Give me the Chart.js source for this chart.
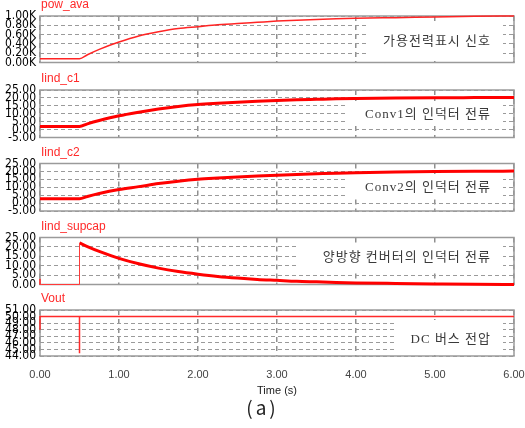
<!DOCTYPE html>
<html>
<head>
<meta charset="utf-8">
<script src="https://cdn.jsdelivr.net/npm/chart.js@4.4.0/dist/chart.umd.min.js"></script>
<style>
  html, body { margin: 0; padding: 0; background: #fff; }
  #wrap { position: relative; width: 525px; height: 428px; overflow: hidden; }
  #wrap canvas { position: absolute; left: 0; top: 0; }
  #cap { position: absolute; left: 0; width: 525px; top: 393px; line-height: 22px;
         text-align: center; font: 19px 'Noto Sans CJK KR', sans-serif; color: #222; letter-spacing: 3px; }
</style>
</head>
<body>
<div id="wrap">
  <canvas id="p0" width="525" height="428"></canvas>
  <canvas id="p1" width="525" height="428"></canvas>
  <canvas id="p2" width="525" height="428"></canvas>
  <canvas id="p3" width="525" height="428"></canvas>
  <canvas id="p4" width="525" height="428"></canvas>
  <div id="cap">(a)</div>
</div>
<script>
// time base (s) shared by the first three traces
const time = [0, 0.5, 0.6, 0.75, 1.0, 1.25, 1.5, 1.75, 2.0, 2.25, 2.5, 2.75, 3.0, 3.25, 3.5, 3.75, 4.0, 4.5, 5.0, 5.5, 6.0];
const powAva = [0.08, 0.08, 0.167, 0.283, 0.44, 0.57, 0.66, 0.73, 0.77, 0.81, 0.84, 0.865, 0.89, 0.91, 0.925, 0.94, 0.95, 0.965, 0.98, 0.995, 1.0];
const iindC1 = [2.0, 2.0, 3.6, 5.7, 8.7, 11.0, 13.0, 14.6, 15.8, 16.6, 17.3, 17.9, 18.4, 18.8, 19.1, 19.4, 19.6, 19.9, 20.1, 20.2, 20.3];
const iindC2 = [2.7, 2.7, 4.2, 6.1, 8.6, 10.4, 12.3, 13.8, 15.0, 15.8, 16.5, 17.1, 17.6, 18.1, 18.5, 18.9, 19.2, 19.6, 19.9, 20.1, 20.2];

// supercap current: step at 0.5 s then decay
const supTime = [0.5, 0.6, 0.75, 1.0, 1.25, 1.5, 1.75, 2.0, 2.25, 2.5, 2.75, 3.0, 3.25, 3.5, 3.75, 4.0, 4.5, 5.0, 5.5, 6.0];
const supCap = [22.1, 20.2, 17.6, 13.9, 11.0, 8.7, 6.9, 5.5, 4.3, 3.4, 2.7, 2.2, 1.7, 1.4, 1.1, 0.85, 0.55, 0.3, 0.1, 0.05];
const supEdgeTime = [0, 0, 0.02, 0.5, 0.5];
const supEdge = [3, 0, 0, 0, 22.1];

// DC bus voltage
const voutTime = [0, 0, 0.5, 0.5, 0.5, 6.0];
const vout = [48, 50, 50, 44.4, 50, 50];

// axis ticks
const timeTicks = [0, 1, 2, 3, 4, 5, 6];
const powTicks = [0, 0.2, 0.4, 0.6, 0.8, 1.0];
const convTicks = [-5, 0, 5, 10, 15, 20, 25];
const supTicks = [0, 5, 10, 15, 20, 25];
const voutTicks = [44, 45, 46, 47, 48, 49, 50, 51];

const names = ['pow_ava', 'Iind_c1', 'Iind_c2', 'Iind_supcap', 'Vout'];
const notes = ['가용전력표시 신호', 'Conv1의 인덕터 전류', 'Conv2의 인덕터 전류', '양방향 컨버터의 인덕터 전류', 'DC 버스 전압'];

const pts = (xs, ys) => xs.map((x, i) => ({ x, y: ys[i] }));

const panelDecor = {
  id: 'panelDecor',
  beforeDatasetsDraw(chart, args, o) {
    const { ctx, chartArea: a } = chart;
    ctx.save();
    // white note box over the grid
    const [x0, y0, x1, y1] = o.box;
    ctx.fillStyle = '#fff';
    ctx.fillRect(x0, y0, x1 - x0, y1 - y0);
    ctx.font = "13px 'Liberation Serif', 'Noto Sans CJK KR', serif";
    ctx.fillStyle = '#3a3a3a';
    ctx.textAlign = 'right';
    ctx.textBaseline = 'middle';
    ctx.letterSpacing = '1px';
    ctx.fillText(o.note, x1 - 12, o.textY);
    ctx.letterSpacing = '0px';
    // frame
    ctx.strokeStyle = '#9a9a9a';
    ctx.lineWidth = 1.5;
    ctx.strokeRect(a.left, a.top, a.right - a.left, a.bottom - a.top);
    // trace name
    ctx.font = "12px 'Liberation Sans', Arial, sans-serif";
    ctx.fillStyle = '#ff2a2a';
    ctx.textAlign = 'left';
    ctx.textBaseline = 'alphabetic';
    ctx.fillText(o.name, a.left + 1, a.top - 8);
    ctx.restore();
  }
};

function makePanel(i, spec) {
  const last = i === 4;
  const xAxisH = last ? 42 : 0;
  new Chart(document.getElementById('p' + i), {
    type: 'line',
    data: { datasets: spec.datasets },
    options: {
      responsive: false,
      animation: false,
      layout: { autoPadding: false, padding: { left: 0, right: 11, top: spec.top, bottom: 428 - spec.bottom - xAxisH } },
      plugins: {
        legend: { display: false },
        tooltip: { enabled: false },
        panelDecor: { name: names[i], note: notes[i], box: spec.box, textY: spec.textY }
      },
      elements: { point: { radius: 0 }, line: { tension: 0 } },
      scales: {
        x: {
          type: 'linear', min: 0, max: 6,
          afterBuildTicks: s => { s.ticks = timeTicks.map(v => ({ value: v })); },
          afterFit: s => { s.height = xAxisH; s.paddingLeft = 0; s.paddingRight = 0; },
          grid: { color: '#8f8f8f', lineWidth: 1.5, drawTicks: false },
          border: { display: false, dash: [5, 4] },
          ticks: {
            display: last, padding: 12, autoSkip: false, maxRotation: 0,
            color: '#444', font: { family: "'Liberation Sans', Arial, sans-serif", size: 11 },
            callback: v => v.toFixed(2)
          },
          title: {
            display: last, text: 'Time (s)', color: '#222', padding: 0,
            font: { family: "'Liberation Sans', Arial, sans-serif", size: 11 }
          }
        },
        y: {
          min: spec.min, max: spec.max,
          afterBuildTicks: s => { s.ticks = spec.ticks.map(v => ({ value: v })); },
          afterFit: s => { s.width = 40; },
          grid: { color: '#9a9a9a', drawTicks: false },
          border: { display: false, dash: [4, 3] },
          ticks: {
            padding: 4, autoSkip: false, color: '#000',
            font: { family: "'Liberation Sans Narrow', 'DejaVu Sans Condensed', 'Liberation Sans', sans-serif", size: 12 },
            callback: spec.fmt
          }
        }
      }
    },
    plugins: [panelDecor]
  });
}

const red = '#ff0000';
const fmt2 = v => v.toFixed(2);

makePanel(0, {
  top: 16, bottom: 62.5, min: 0, max: 1, ticks: powTicks, fmt: v => v.toFixed(2) + 'K',
  box: [366, 21, 503, 57], textY: 41.5,
  datasets: [{ data: pts(time, powAva), borderColor: '#ff2424', borderWidth: 1.5, cubicInterpolationMode: 'monotone', clip: 4 }]
});
makePanel(1, {
  top: 90, bottom: 137.5, min: -5, max: 25, ticks: convTicks, fmt: fmt2,
  box: [348, 101, 503, 126], textY: 115,
  datasets: [{ data: pts(time, iindC1), borderColor: red, borderWidth: 3, cubicInterpolationMode: 'monotone', clip: 4 }]
});
makePanel(2, {
  top: 163.5, bottom: 211, min: -5, max: 25, ticks: convTicks, fmt: fmt2,
  box: [348, 174, 503, 199], textY: 188,
  datasets: [{ data: pts(time, iindC2), borderColor: red, borderWidth: 3, cubicInterpolationMode: 'monotone', clip: 4 }]
});
makePanel(3, {
  top: 237.5, bottom: 284.5, min: 0, max: 25, ticks: supTicks, fmt: fmt2,
  box: [298, 243, 503, 270], textY: 258,
  datasets: [
    { data: pts(supEdgeTime, supEdge), borderColor: '#ff3a3a', borderWidth: 1, clip: 4 },
    { data: pts(supTime, supCap), borderColor: red, borderWidth: 3, cubicInterpolationMode: 'monotone', clip: 4 }
  ]
});
makePanel(4, {
  top: 310, bottom: 356, min: 44, max: 51, ticks: voutTicks, fmt: fmt2,
  box: [395, 320, 503, 354], textY: 340,
  datasets: [{ data: pts(voutTime, vout), borderColor: '#ff2a2a', borderWidth: 1.5, clip: 4 }]
});
</script>
</body>
</html>
